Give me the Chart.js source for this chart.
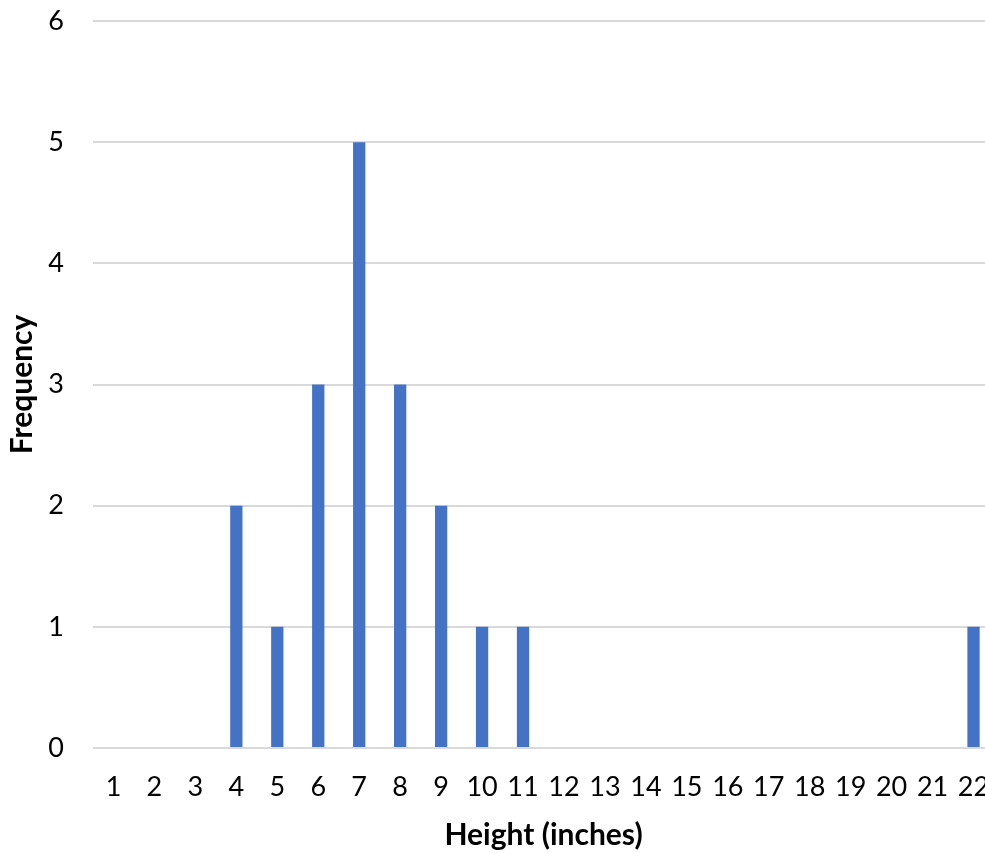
<!DOCTYPE html>
<html>
<head>
<meta charset="utf-8">
<script src="https://cdn.jsdelivr.net/npm/chart.js@4"></script>
<style>
  html, body { margin: 0; padding: 0; background: #fff; overflow: hidden; }
  #wrap { width: 1000px; height: 853px; }
</style>
</head>
<body>
<div id="wrap"><canvas id="histChart" width="1000" height="853"></canvas></div>
<script>
// heights in inches and how many of each
const heights = ['1','2','3','4','5','6','7','8','9','10','11','12','13','14','15','16','17','18','19','20','21','22'];
const frequency = [0, 0, 0, 2, 1, 3, 5, 3, 2, 1, 1, 0, 0, 0, 0, 0, 0, 0, 0, 0, 0, 1];
const yTicks = [0, 1, 2, 3, 4, 5, 6];

const font = 'Lato, "Open Sans", sans-serif';

const ctx = document.getElementById('histChart').getContext('2d');
const histChart = new Chart(ctx, {
  type: 'bar',
  data: {
    labels: heights,
    datasets: [{
      label: 'Frequency',
      data: frequency,
      backgroundColor: '#4472C4',
      borderWidth: 0,
      barPercentage: 0.3,
      categoryPercentage: 1
    }]
  },
  options: {
    responsive: false,
    animation: false,
    layout: { padding: { top: 6, right: 6, left: 0, bottom: 0 } },
    plugins: {
      legend: { display: false },
      tooltip: { enabled: false }
    },
    scales: {
      x: {
        grid: { display: false, drawTicks: false },
        border: { display: false },
        ticks: {
          color: '#000',
          padding: 23,
          maxRotation: 0,
          autoSkip: false,
          font: { family: font, size: 27 }
        },
        title: {
          display: true,
          text: 'Height (inches)',
          color: '#000',
          padding: { top: 0, bottom: 0 },
          font: { family: font, size: 30, weight: 'bold' }
        },
        afterFit: (scale) => {
          scale.height = 105;
          scale.paddingLeft = 0;
          scale.paddingRight = 0;
        }
      },
      y: {
        min: 0,
        max: 6,
        afterBuildTicks: (scale) => { scale.ticks = yTicks.map(v => ({ value: v })); },
        grid: { color: '#d9d9d9', lineWidth: 2, drawTicks: false },
        border: { display: false },
        ticks: {
          color: '#000',
          padding: 29,
          font: { family: font, size: 27 }
        },
        title: {
          display: true,
          text: 'Frequency',
          color: '#000',
          padding: { top: 4, bottom: 0 },
          font: { family: font, size: 30, weight: 'bold' }
        },
        afterFit: (scale) => {
          scale.width = 93;
          scale.paddingTop = 21;
        }
      }
    }
  }
});
</script>
</body>
</html>
